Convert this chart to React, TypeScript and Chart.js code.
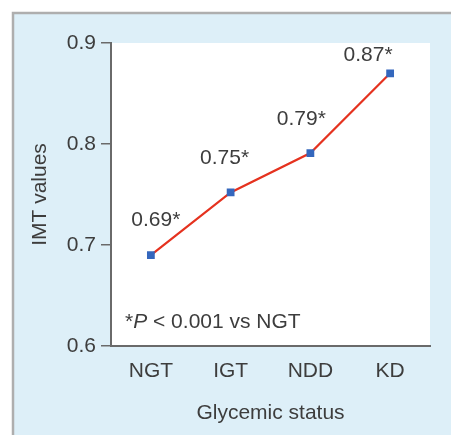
import React, { useEffect, useRef } from "react";
import { Chart, registerables } from "chart.js";

Chart.register(...registerables);

const categories = ["NGT", "IGT", "NDD", "KD"];
const imtValues = [0.69, 0.752, 0.791, 0.87];
const pointLabels = ["0.69*", "0.75*", "0.79*", "0.87*"];
const yTicks = [0.6, 0.7, 0.8, 0.9];
const yTitle = "IMT values";
const xTitle = "Glycemic status";

const FONT = "'Liberation Sans', Arial, Helvetica, sans-serif";
const TEXT = "#3d3d3d";
const FS = 21;

// per-label offsets relative to its point (dx, dy)
const LABEL_OFFSETS = [
  [5, -35],
  [-6, -34],
  [-9, -34],
  [-22, -18],
];

const framePlugin = {
  id: "frame",
  beforeDraw(chart: any) {
    const { ctx, width, height, chartArea } = chart;
    ctx.save();
    ctx.fillStyle = "#ffffff";
    ctx.fillRect(0, 0, width, height);
    ctx.fillStyle = "#ddeff8";
    ctx.fillRect(13, 13, width - 13, height - 13);
    ctx.strokeStyle = "#aeaeae";
    ctx.lineWidth = 2.5;
    ctx.beginPath();
    ctx.moveTo(13, height);
    ctx.lineTo(13, 13);
    ctx.lineTo(width, 13);
    ctx.stroke();
    ctx.fillStyle = "#ffffff";
    ctx.fillRect(chartArea.left, chartArea.top, chartArea.right - chartArea.left, chartArea.bottom - chartArea.top);
    ctx.restore();
  },
  afterDatasetsDraw(chart: any) {
    const { ctx, chartArea } = chart;
    const meta = chart.getDatasetMeta(0);
    ctx.save();
    ctx.fillStyle = TEXT;
    ctx.font = `${FS}px ${FONT}`;
    ctx.textAlign = "center";
    ctx.textBaseline = "middle";
    meta.data.forEach((pt: any, i: number) => {
      const [dx, dy] = LABEL_OFFSETS[i];
      ctx.fillText(pointLabels[i], pt.x + dx, pt.y + dy);
    });
    // footnote
    ctx.textAlign = "left";
    ctx.textBaseline = "alphabetic";
    let x = chartArea.left + 14;
    const y = chartArea.bottom - 18;
    ctx.font = `${FS}px ${FONT}`;
    ctx.fillText("*", x, y);
    x += ctx.measureText("*").width;
    ctx.font = `italic ${FS}px ${FONT}`;
    ctx.fillText("P", x, y);
    x += ctx.measureText("P").width;
    ctx.font = `${FS}px ${FONT}`;
    ctx.fillText(" < 0.001 vs NGT", x, y);
    ctx.restore();
  },
};

export default function App() {
  const ref = useRef<HTMLCanvasElement>(null);
  useEffect(() => {
    if (!ref.current) return;
    const chart = new Chart(ref.current, {
      type: "line",
      data: {
        labels: categories,
        datasets: [
          {
            data: imtValues,
            borderColor: "#e5321f",
            borderWidth: 2.2,
            pointStyle: "rect",
            pointRadius: 5.5,
            pointBackgroundColor: "#3467bd",
            pointBorderColor: "#3467bd",
            pointBorderWidth: 0,
            tension: 0,
          },
        ],
      },
      plugins: [framePlugin],
      options: {
        responsive: false,
        animation: false,
        layout: { padding: { left: 0, top: 43, right: 21, bottom: 0 } },
        plugins: { legend: { display: false }, tooltip: { enabled: false } },
        scales: {
          x: {
            offset: true,
            grid: { display: false, drawTicks: false, tickLength: 0 },
            border: { display: true, color: "#6a6a6a", width: 2 },
            ticks: { color: TEXT, font: { family: FONT, size: FS }, padding: 13 },
            title: {
              display: true,
              text: xTitle,
              color: TEXT,
              font: { family: FONT, size: FS },
              padding: { top: 0, bottom: 9 },
            },
            afterFit: (s: any) => {
              s.height = 89;
            },
          },
          y: {
            min: 0.6,
            max: 0.9,
            afterBuildTicks: (s: any) => {
              s.ticks = yTicks.map((v) => ({ value: v }));
            },
            grid: { drawOnChartArea: false, drawTicks: true, tickLength: 10, color: "#6a6a6a", lineWidth: 1.5 },
            border: { display: true, color: "#6a6a6a", width: 2 },
            ticks: {
              color: TEXT,
              font: { family: FONT, size: FS },
              padding: 5,
              callback: (v: any) => Number(v).toFixed(1),
            },
            title: {
              display: true,
              text: yTitle,
              color: TEXT,
              font: { family: FONT, size: FS },
              padding: { top: 28, bottom: 0 },
            },
            afterFit: (s: any) => {
              s.width = 111;
            },
          },
        },
      },
    });
    return () => chart.destroy();
  }, []);
  return (
    <div style={{ position: "fixed", left: 0, top: 0, width: 451, height: 435 }}>
      <canvas ref={ref} width={451} height={435} />
    </div>
  );
}
